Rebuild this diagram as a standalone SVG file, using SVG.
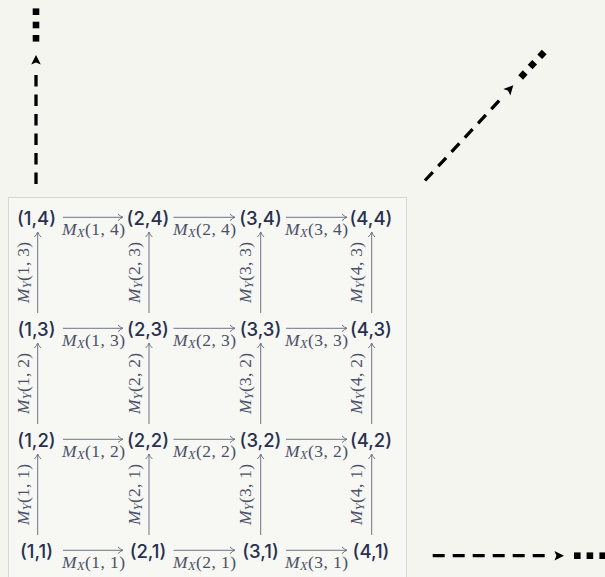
<svg xmlns="http://www.w3.org/2000/svg" width="605" height="577" viewBox="0 0 605 577">
<style>
.node{font-family:Inter,"Noto Sans",sans-serif;font-size:18.5px;font-weight:500;fill:#283050;text-anchor:middle}
.lbl{font-family:"Liberation Serif",serif;font-size:17.5px;fill:#4a5068;text-anchor:middle}
.i{font-style:italic}
.sub{font-style:italic;font-size:12.5px}
.arr{stroke:#6f7387;stroke-width:1;fill:none;marker-end:url(#ah)}
.dash{stroke:#000;stroke-width:3.3;fill:none;stroke-dasharray:11.5 8}
.dashh{stroke:#000;stroke-width:3.3;fill:none;stroke-dasharray:12 8}
</style>
<defs>
<marker id="ah" markerUnits="userSpaceOnUse" viewBox="-7 -5 8 10" refX="0" refY="0" markerWidth="8" markerHeight="10" orient="auto">
<path d="M-5,-3.3 Q-2.2,-0.6 0,0 Q-2.2,0.6 -5,3.3" stroke="#6f7387" stroke-width="1" fill="none"/>
</marker>
<path id="head" d="M0,0 L-9.5,-4.8 L-7.6,0 L-9.5,4.8 Z" fill="#000"/>
<rect id="sq" x="-3.3" y="-3.3" width="6.6" height="6.6" fill="#000"/>
</defs>
<rect width="605" height="577" fill="#f5f5f0"/>
<rect x="8.5" y="197.5" width="398" height="392" fill="#f7f7f3" stroke="#d8d8d2"/>

<g id="continuations">
<line class="dash" x1="36" y1="184" x2="36" y2="74"/>
<use href="#head" transform="translate(36 55) rotate(-90)"/>
<use href="#sq" transform="translate(36 38.3)"/>
<use href="#sq" transform="translate(36 25)"/>
<use href="#sq" transform="translate(36 11.7)"/>
<line class="dash" x1="425" y1="180.5" x2="499.5" y2="100.2"/>
<use href="#head" transform="translate(513.3 85.3) rotate(-47.1)"/>
<use href="#sq" transform="translate(522.9 75) rotate(-47.1)"/>
<use href="#sq" transform="translate(532.4 64.7) rotate(-47.1)"/>
<use href="#sq" transform="translate(542 54.4) rotate(-47.1)"/>
<line class="dashh" x1="432.7" y1="555.7" x2="544.7" y2="555.7"/>
<use href="#head" transform="translate(564 555.7)"/>
<use href="#sq" transform="translate(577.3 555.7)"/>
<use href="#sq" transform="translate(589.9 555.7)"/>
<use href="#sq" transform="translate(602.7 555.7)"/>
</g>

<g id="connectors">
<line class="arr" x1="63" y1="217.3" x2="123" y2="217.3"/>
<line class="arr" x1="173.5" y1="217.3" x2="235" y2="217.3"/>
<line class="arr" x1="286" y1="217.3" x2="347" y2="217.3"/>
<line class="arr" x1="63" y1="328.3" x2="123" y2="328.3"/>
<line class="arr" x1="173.5" y1="328.3" x2="235" y2="328.3"/>
<line class="arr" x1="286" y1="328.3" x2="347" y2="328.3"/>
<line class="arr" x1="63" y1="439.3" x2="123" y2="439.3"/>
<line class="arr" x1="173.5" y1="439.3" x2="235" y2="439.3"/>
<line class="arr" x1="286" y1="439.3" x2="347" y2="439.3"/>
<line class="arr" x1="63" y1="550.3" x2="123" y2="550.3"/>
<line class="arr" x1="173.5" y1="550.3" x2="235" y2="550.3"/>
<line class="arr" x1="286" y1="550.3" x2="347" y2="550.3"/>

<line class="arr" x1="37.7" y1="313" x2="37.7" y2="232"/>
<line class="arr" x1="149" y1="313" x2="149" y2="232"/>
<line class="arr" x1="260.7" y1="313" x2="260.7" y2="232"/>
<line class="arr" x1="371.7" y1="313" x2="371.7" y2="232"/>
<line class="arr" x1="37.7" y1="424" x2="37.7" y2="343"/>
<line class="arr" x1="149" y1="424" x2="149" y2="343"/>
<line class="arr" x1="260.7" y1="424" x2="260.7" y2="343"/>
<line class="arr" x1="371.7" y1="424" x2="371.7" y2="343"/>
<line class="arr" x1="37.7" y1="535" x2="37.7" y2="454"/>
<line class="arr" x1="149" y1="535" x2="149" y2="454"/>
<line class="arr" x1="260.7" y1="535" x2="260.7" y2="454"/>
<line class="arr" x1="371.7" y1="535" x2="371.7" y2="454"/>

<text class="lbl" x="93.5" y="235" textLength="63"><tspan class="i">M</tspan><tspan class="sub" dy="2">X</tspan><tspan dy="-2">(1, 4)</tspan></text>
<text class="lbl" x="204.5" y="235" textLength="63"><tspan class="i">M</tspan><tspan class="sub" dy="2">X</tspan><tspan dy="-2">(2, 4)</tspan></text>
<text class="lbl" x="316.5" y="235" textLength="63"><tspan class="i">M</tspan><tspan class="sub" dy="2">X</tspan><tspan dy="-2">(3, 4)</tspan></text>
<text class="lbl" x="93.5" y="346" textLength="63"><tspan class="i">M</tspan><tspan class="sub" dy="2">X</tspan><tspan dy="-2">(1, 3)</tspan></text>
<text class="lbl" x="204.5" y="346" textLength="63"><tspan class="i">M</tspan><tspan class="sub" dy="2">X</tspan><tspan dy="-2">(2, 3)</tspan></text>
<text class="lbl" x="316.5" y="346" textLength="63"><tspan class="i">M</tspan><tspan class="sub" dy="2">X</tspan><tspan dy="-2">(3, 3)</tspan></text>
<text class="lbl" x="93.5" y="457" textLength="63"><tspan class="i">M</tspan><tspan class="sub" dy="2">X</tspan><tspan dy="-2">(1, 2)</tspan></text>
<text class="lbl" x="204.5" y="457" textLength="63"><tspan class="i">M</tspan><tspan class="sub" dy="2">X</tspan><tspan dy="-2">(2, 2)</tspan></text>
<text class="lbl" x="316.5" y="457" textLength="63"><tspan class="i">M</tspan><tspan class="sub" dy="2">X</tspan><tspan dy="-2">(3, 2)</tspan></text>
<text class="lbl" x="93.5" y="568" textLength="63"><tspan class="i">M</tspan><tspan class="sub" dy="2">X</tspan><tspan dy="-2">(1, 1)</tspan></text>
<text class="lbl" x="204.5" y="568" textLength="63"><tspan class="i">M</tspan><tspan class="sub" dy="2">X</tspan><tspan dy="-2">(2, 1)</tspan></text>
<text class="lbl" x="316.5" y="568" textLength="63"><tspan class="i">M</tspan><tspan class="sub" dy="2">X</tspan><tspan dy="-2">(3, 1)</tspan></text>

<text class="lbl" x="28.5" y="272.5" transform="rotate(-90 28.5 272.5)" textLength="61"><tspan class="i">M</tspan><tspan class="sub" dy="2">Y</tspan><tspan dy="-2">(1, 3)</tspan></text>
<text class="lbl" x="139.8" y="272.5" transform="rotate(-90 139.8 272.5)" textLength="61"><tspan class="i">M</tspan><tspan class="sub" dy="2">Y</tspan><tspan dy="-2">(2, 3)</tspan></text>
<text class="lbl" x="251" y="272.5" transform="rotate(-90 251 272.5)" textLength="61"><tspan class="i">M</tspan><tspan class="sub" dy="2">Y</tspan><tspan dy="-2">(3, 3)</tspan></text>
<text class="lbl" x="362.2" y="272.5" transform="rotate(-90 362.2 272.5)" textLength="61"><tspan class="i">M</tspan><tspan class="sub" dy="2">Y</tspan><tspan dy="-2">(4, 3)</tspan></text>
<text class="lbl" x="28.5" y="383.5" transform="rotate(-90 28.5 383.5)" textLength="61"><tspan class="i">M</tspan><tspan class="sub" dy="2">Y</tspan><tspan dy="-2">(1, 2)</tspan></text>
<text class="lbl" x="139.8" y="383.5" transform="rotate(-90 139.8 383.5)" textLength="61"><tspan class="i">M</tspan><tspan class="sub" dy="2">Y</tspan><tspan dy="-2">(2, 2)</tspan></text>
<text class="lbl" x="251" y="383.5" transform="rotate(-90 251 383.5)" textLength="61"><tspan class="i">M</tspan><tspan class="sub" dy="2">Y</tspan><tspan dy="-2">(3, 2)</tspan></text>
<text class="lbl" x="362.2" y="383.5" transform="rotate(-90 362.2 383.5)" textLength="61"><tspan class="i">M</tspan><tspan class="sub" dy="2">Y</tspan><tspan dy="-2">(4, 2)</tspan></text>
<text class="lbl" x="28.5" y="494.5" transform="rotate(-90 28.5 494.5)" textLength="61"><tspan class="i">M</tspan><tspan class="sub" dy="2">Y</tspan><tspan dy="-2">(1, 1)</tspan></text>
<text class="lbl" x="139.8" y="494.5" transform="rotate(-90 139.8 494.5)" textLength="61"><tspan class="i">M</tspan><tspan class="sub" dy="2">Y</tspan><tspan dy="-2">(2, 1)</tspan></text>
<text class="lbl" x="251" y="494.5" transform="rotate(-90 251 494.5)" textLength="61"><tspan class="i">M</tspan><tspan class="sub" dy="2">Y</tspan><tspan dy="-2">(3, 1)</tspan></text>
<text class="lbl" x="362.2" y="494.5" transform="rotate(-90 362.2 494.5)" textLength="61"><tspan class="i">M</tspan><tspan class="sub" dy="2">Y</tspan><tspan dy="-2">(4, 1)</tspan></text>
</g>

<g id="n14"><text class="node" x="36.5" y="224.5">(1,4)</text></g>
<g id="n24"><text class="node" x="148" y="224.5">(2,4)</text></g>
<g id="n34"><text class="node" x="260.5" y="224.5">(3,4)</text></g>
<g id="n44"><text class="node" x="371" y="224.5">(4,4)</text></g>
<g id="n13"><text class="node" x="36.5" y="335.5">(1,3)</text></g>
<g id="n23"><text class="node" x="148" y="335.5">(2,3)</text></g>
<g id="n33"><text class="node" x="260.5" y="335.5">(3,3)</text></g>
<g id="n43"><text class="node" x="371" y="335.5">(4,3)</text></g>
<g id="n12"><text class="node" x="36.5" y="446.5">(1,2)</text></g>
<g id="n22"><text class="node" x="148" y="446.5">(2,2)</text></g>
<g id="n32"><text class="node" x="260.5" y="446.5">(3,2)</text></g>
<g id="n42"><text class="node" x="371" y="446.5">(4,2)</text></g>
<g id="n11"><text class="node" x="36.5" y="557.5">(1,1)</text></g>
<g id="n21"><text class="node" x="148" y="557.5">(2,1)</text></g>
<g id="n31"><text class="node" x="260.5" y="557.5">(3,1)</text></g>
<g id="n41"><text class="node" x="371" y="557.5">(4,1)</text></g>
</svg>
